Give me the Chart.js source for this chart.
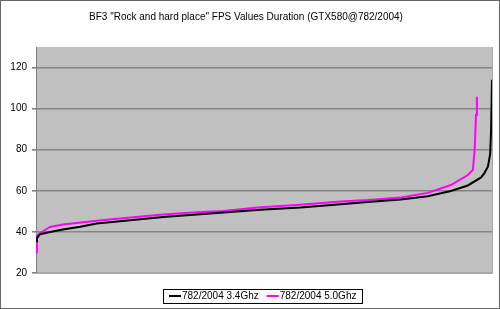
<!DOCTYPE html>
<html>
<head>
<meta charset="utf-8">
<script src="https://cdn.jsdelivr.net/npm/chart.js@4"></script>
<style>
    html, body { margin: 0; padding: 0; background: #fff; }
    #wrap { width: 500px; height: 309px; }
</style>
</head>
<body>
<div id="wrap"><canvas id="fpsChart" width="500" height="309"></canvas></div>
<script>
// duration position (% of run) and fps
const pct34 = [0, 0.2, 0.9, 3.1, 5.9, 9.7, 13.3, 20.7, 27.9, 35.3, 41.1, 49.2, 58.0, 66.8, 72.7, 80.0, 85.9, 91.0, 94.7, 97.6, 98.3, 99.1, 99.6, 99.8, 100];
const fps34 = [35.5, 37, 38.9, 40, 41.2, 42.5, 44.1, 45.7, 47.3, 48.5, 49.5, 50.8, 51.9, 53.5, 54.5, 55.8, 57.4, 59.9, 62.6, 66.5, 68.5, 71.7, 78, 89.6, 114];

const pct50 = [0, 0.2, 0.9, 3.1, 5.9, 13.3, 20.7, 27.9, 35.3, 41.1, 49.2, 58.0, 66.8, 72.7, 80.0, 85.9, 91.0, 94.7, 95.8, 96.2, 96.5, 96.7];
const fps50 = [30, 38, 39.5, 42.4, 43.6, 45.4, 47, 48.5, 49.6, 50.2, 52, 53.2, 54.8, 55.5, 56.8, 59, 62.8, 67.7, 70.1, 80, 97, 105.8];

const yTicks = [20, 40, 60, 80, 100, 120];
const seriesNames = ['782/2004 3.4Ghz', '782/2004 5.0Ghz'];
const seriesColors = ['#000000', '#ff00ff'];

const chartTitle = 'BF3 "Rock and hard place" FPS Values Duration (GTX580@782/2004)';
const font = 'Arial, "Liberation Sans", sans-serif';

function toPoints(xs, ys) {
    return xs.map((x, i) => ({ x: x, y: ys[i] }));
}

// gray plot area, frame and the boxed legend, like the Excel original
const excelLook = {
    id: 'excelLook',
    beforeDraw(chart) {
        const { ctx, chartArea: a } = chart;
        ctx.save();
        ctx.fillStyle = '#c0c0c0';
        ctx.fillRect(a.left, a.top, a.right - a.left, a.bottom - a.top);
        ctx.restore();
    },
    afterDraw(chart) {
        const { ctx, chartArea: a } = chart;
        ctx.save();
        ctx.strokeStyle = '#a8a8a8';
        ctx.lineWidth = 1;
        ctx.beginPath();
        ctx.moveTo(a.left, a.bottom + 0.5);
        ctx.lineTo(a.right + 0.5, a.bottom + 0.5);
        ctx.lineTo(a.right + 0.5, a.top);
        ctx.stroke();

        // outer border
        ctx.strokeStyle = '#666666';
        ctx.strokeRect(0.5, 0.5, chart.width - 1, chart.height - 1);

        // legend
        ctx.font = '10px ' + font;
        ctx.textBaseline = 'middle';
        const lineLen = 12, gap = 1, itemGap = 8, padX = 6;
        const sets = chart.data.datasets;
        const widths = sets.map(d => lineLen + gap + ctx.measureText(d.label).width);
        const total = widths.reduce((s, w) => s + w, 0) + itemGap * (sets.length - 1) + padX * 2;
        const cx = 262.5, cy = 296, h = 14;
        let x = Math.round(cx - total / 2);
        ctx.strokeStyle = '#000';
        ctx.strokeRect(x + 0.5, cy - h / 2 + 0.5, Math.round(total), h);
        x += padX;
        sets.forEach((d, i) => {
            ctx.strokeStyle = d.borderColor;
            ctx.lineWidth = 2;
            ctx.beginPath();
            ctx.moveTo(x, cy);
            ctx.lineTo(x + lineLen, cy);
            ctx.stroke();
            ctx.fillStyle = '#000';
            ctx.fillText(d.label, x + lineLen + gap, cy);
            x += widths[i] + itemGap;
        });
        ctx.restore();
    }
};

new Chart(document.getElementById('fpsChart'), {
    type: 'line',
    data: {
        datasets: [
            {
                label: seriesNames[0],
                data: toPoints(pct34, fps34),
                borderColor: seriesColors[0],
                backgroundColor: seriesColors[0],
                borderWidth: 2,
                pointRadius: 0,
                tension: 0,
                fill: false
            },
            {
                label: seriesNames[1],
                data: toPoints(pct50, fps50),
                borderColor: seriesColors[1],
                backgroundColor: seriesColors[1],
                borderWidth: 2,
                pointRadius: 0,
                tension: 0,
                fill: false
            }
        ]
    },
    options: {
        responsive: false,
        animation: false,
        layout: { padding: { left: 0, right: 8, top: 0, bottom: 36 } },
        plugins: {
            legend: { display: false },
            tooltip: { enabled: false },
            title: {
                display: true,
                text: chartTitle,
                color: '#000',
                font: { family: font, size: 10, weight: 'normal' },
                padding: { top: 11, bottom: 24 }
            }
        },
        scales: {
            x: {
                type: 'linear',
                min: 0,
                max: 100,
                display: false
            },
            y: {
                min: 20,
                max: 130,
                afterBuildTicks(scale) {
                    scale.ticks = yTicks.map(v => ({ value: v }));
                },
                afterFit(scale) {
                    scale.width = 36;
                },
                ticks: {
                    color: '#000',
                    padding: 5,
                    font: { family: font, size: 10 }
                },
                grid: {
                    color: c => (c.tick && c.tick.value === 20) ? '#a8a8a8' : '#858585',
                    lineWidth: 1.6,
                    tickLength: 4,
                    tickColor: '#808080'
                },
                border: { color: '#808080', width: 1 }
            }
        }
    },
    plugins: [excelLook]
});
</script>
</body>
</html>
